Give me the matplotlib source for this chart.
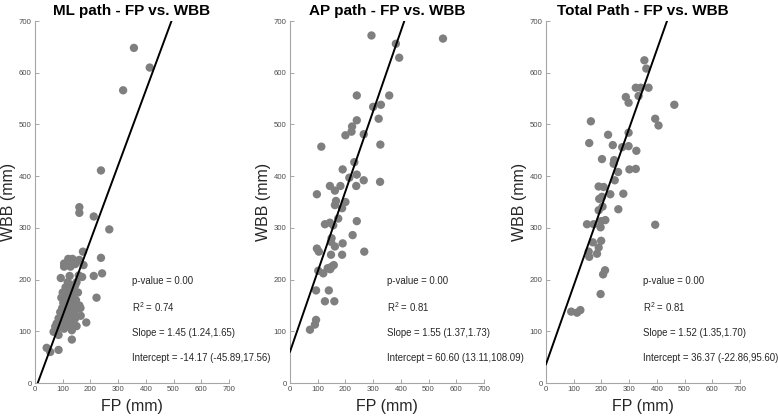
import numpy as np
import matplotlib.pyplot as plt

plt.rcParams['font.family'] = ['Liberation Sans', 'DejaVu Sans']

# ML path: FP vs WBB (mm)
ml_fp = [357, 414, 318, 238, 160, 160, 212, 268, 173, 238, 242, 212, 222, 185, 133,
         105, 105, 139, 152, 175, 93, 125, 158, 115, 115, 145, 109, 109, 139, 164,
         91, 85, 127, 133, 73, 67, 133, 85, 42, 55, 85,
         95, 98, 100, 102, 105, 108, 110, 112, 115, 118, 120, 120, 122, 125, 128,
         130, 132, 135, 138, 140, 142, 145, 148, 150, 150, 155, 160, 140, 128, 118,
         110, 100, 95, 88, 80, 78, 90, 105, 150, 165, 170, 145, 128, 120, 135, 160]
ml_wbb = [648, 610, 566, 411, 340, 329, 322, 297, 254, 242, 212, 207, 165, 117, 84,
          231, 225, 236, 236, 228, 203, 207, 208, 183, 173, 189, 160, 150, 164, 145,
          137, 125, 135, 122, 109, 99, 102, 93, 68, 60, 64,
          130, 145, 120, 155, 138, 128, 170, 118, 145, 160, 125, 150, 178, 140, 112,
          158, 130, 148, 120, 170, 138, 125, 160, 195, 145, 175, 150, 185, 190, 195,
          185, 175, 165, 118, 105, 115, 110, 105, 110, 130, 205, 230, 225, 240, 240, 238]

# AP path
ap_fp = [294, 552, 382, 394, 241, 358, 300, 328, 320, 241, 224, 222, 200, 266, 113,
         326, 232, 190, 241, 214, 266, 325, 239, 144, 182, 162, 97, 166, 200, 162,
         188, 174, 241, 126, 144, 156, 150, 148, 226, 97, 104, 190, 162, 268, 188,
         148, 102, 120, 136, 150, 145, 158, 94, 140, 126, 160, 94, 90, 72]
ap_wbb = [672, 666, 656, 629, 556, 556, 534, 538, 511, 508, 496, 486, 479, 481, 457,
          461, 427, 413, 403, 397, 392, 389, 381, 381, 381, 372, 365, 352, 350, 344,
          338, 318, 313, 307, 310, 305, 280, 273, 286, 260, 254, 270, 264, 254, 248,
          248, 217, 212, 222, 225, 220, 228, 179, 179, 158, 158, 122, 113, 103]

# Total path
tot_fp = [355, 362, 370, 324, 342, 288, 334, 298, 463, 162, 394, 406, 298, 156, 224,
          241, 275, 298, 326, 246, 244, 202, 301, 324, 260, 248, 190, 208, 279, 192,
          202, 204, 190, 261, 148, 172, 199, 214, 197, 394, 169, 199, 154, 156, 184,
          190, 213, 206, 197, 91, 112, 124, 232]
tot_wbb = [624, 608, 571, 571, 571, 553, 555, 542, 538, 506, 511, 498, 484, 464, 480,
           460, 456, 458, 449, 431, 424, 433, 413, 414, 408, 392, 380, 379, 366, 356,
           360, 341, 334, 336, 307, 307, 313, 315, 301, 306, 272, 275, 254, 244, 250,
           262, 218, 210, 172, 138, 136, 141, 365]

panels = [
    ('ML path - FP vs. WBB', ml_fp, ml_wbb, 1.45, -14.17, '0.74',
     '1.45 (1.24,1.65)', '-14.17 (-45.89,17.56)'),
    ('AP path - FP vs. WBB', ap_fp, ap_wbb, 1.55, 60.60, '0.81',
     '1.55 (1.37,1.73)', '60.60 (13.11,108.09)'),
    ('Total Path - FP vs. WBB', tot_fp, tot_wbb, 1.52, 36.37, '0.81',
     '1.52 (1.35,1.70)', '36.37 (-22.86,95.60)'),
]

fig = plt.figure(figsize=(7.78, 4.18), dpi=100)
lefts = [35, 290, 546]
spine_col = '#a6a6a6'

for left, (title, fp, wbb, slope, icpt, r2, s_txt, i_txt) in zip(lefts, panels):
    ax = fig.add_axes([left / 778, 35 / 418, 194 / 778, 362 / 418])
    ax.scatter(fp, wbb, s=36, color='#7f7f7f', edgecolors='none', zorder=2)
    xs = np.array([0, 700])
    ax.plot(xs, slope * xs + icpt, color='black', lw=1.4, zorder=3)
    ax.set_xlim(0, 700)
    ax.set_ylim(0, 700)
    ax.set_xticks(range(0, 701, 100))
    ax.set_yticks(range(0, 701, 100))
    for s in ['top', 'right']:
        ax.spines[s].set_visible(False)
    for s in ['left', 'bottom']:
        ax.spines[s].set_color(spine_col)
        ax.spines[s].set_linewidth(0.8)
    ax.tick_params(direction='in', length=3, width=0.7, color=spine_col,
                   labelsize=5.6, labelcolor='#4d4d4d', pad=2.5)
    ax.set_title(title, fontsize=11, fontweight='bold', pad=4)
    ax.set_xlabel('FP (mm)', fontsize=11.5, color='#262626')
    ax.set_ylabel('WBB (mm)', fontsize=11.5, color='#262626')
    ax.xaxis.set_label_coords(0.5, -0.045)
    ax.yaxis.set_label_coords(-0.1, 0.5)
    tk = dict(fontsize=6.9, va='center', ha='left', color='#262626')
    ax.text(350, 197, 'p-value = 0.00', **tk)
    ax.text(350, 147, '$\\mathregular{R^2}$ = ' + r2, **tk)
    ax.text(350, 97, 'Slope = ' + s_txt, **tk)
    ax.text(350, 48, 'Intercept = ' + i_txt, **tk)

fig.savefig('out.png', dpi=100)
